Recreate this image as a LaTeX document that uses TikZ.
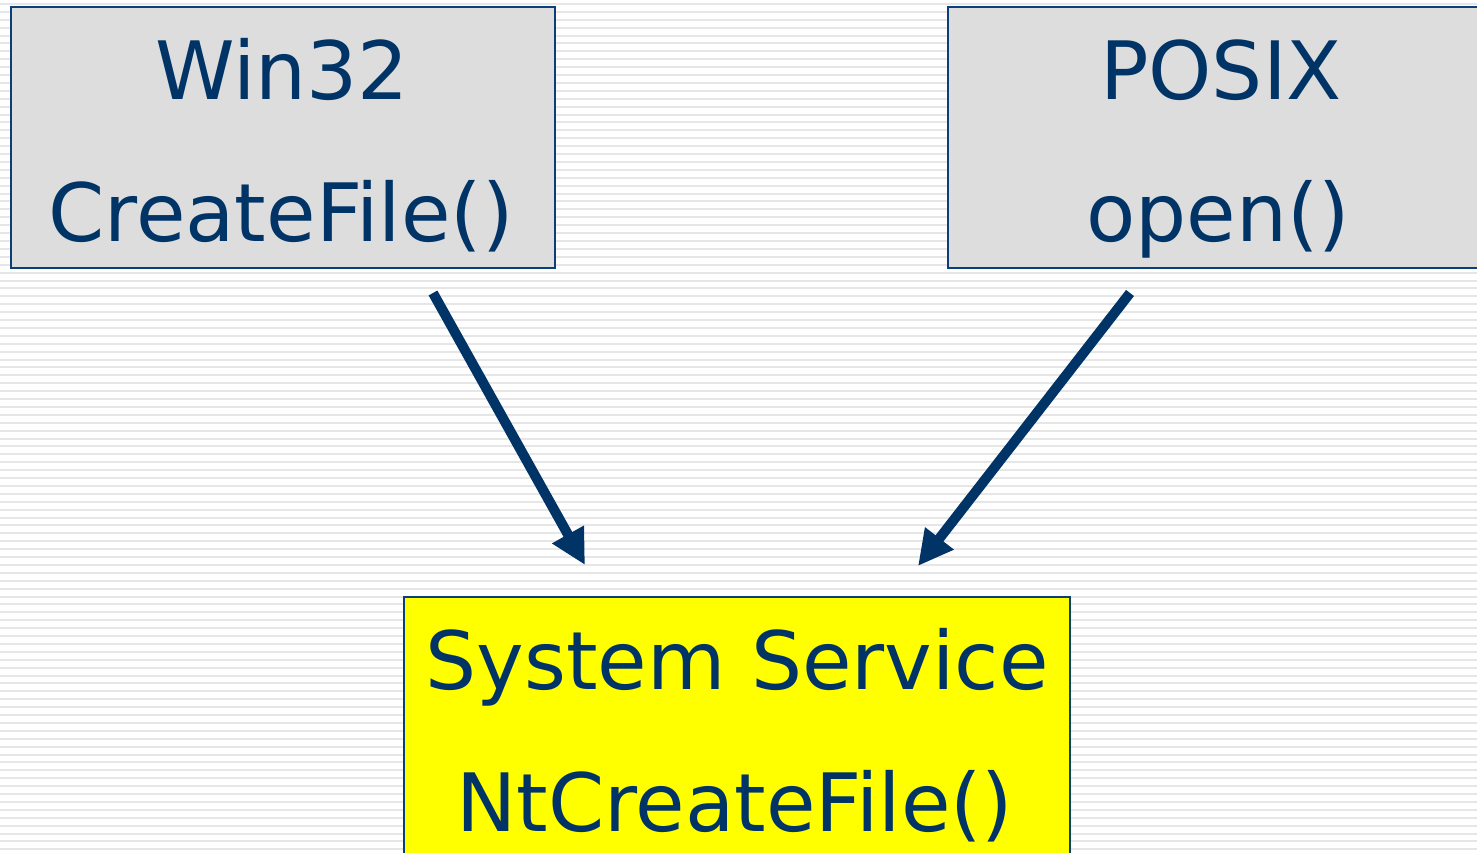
\documentclass[tikz,border=0pt]{standalone}
\usepackage{fontspec}
\setmainfont{DejaVu Sans}
\usetikzlibrary{arrows.meta}
\definecolor{ink}{HTML}{003366}
\definecolor{edge}{HTML}{0A3F7A}
\definecolor{boxgray}{HTML}{DDDDDD}
\definecolor{stripe}{HTML}{E6E6E6}
\definecolor{sysyellow}{HTML}{FFFF00}
\tikzset{
  box/.style={draw=edge, line width=2pt, inner sep=0pt, outer sep=0pt},
  lbl/.style={text=ink, font=\fontsize{80.5}{90}\selectfont, anchor=base, inner sep=0pt},
  flow/.style={draw=ink, line width=10pt, -{Triangle[length=35pt,width=34pt]}}
}
\begin{document}
\begin{tikzpicture}[x=1pt,y=-1pt]
\useasboundingbox (0,0) rectangle (1477,853);
\clip (0,0) rectangle (1477,853);
\fill[white] (0,0) rectangle (1477,853);
\foreach \i in {0,...,108} {
  \fill[stripe] (0,{3+7.9*\i}) rectangle (1477,{5+7.9*\i});
}
\node[box, fill=boxgray, minimum width=544pt, minimum height=261pt, anchor=north west] (win) at (11,7) {};
\node[box, fill=boxgray, minimum width=544pt, minimum height=261pt, anchor=north west] (posix) at (948,7) {};
\node[box, fill=sysyellow, minimum width=666pt, minimum height=300pt, anchor=north west] (sys) at (404,597) {};
\node[lbl] (wint) at (282,100) {Win32};
\node[lbl] (winf) at (281,241) {CreateFile()};
\node[lbl] (posixt) at (1221,100) {POSIX};
\node[lbl] (posixf) at (1218,241) {open()};
\node[lbl] (syst) at (737,689) {System Service};
\node[lbl] (sysf) at (735,831) {NtCreateFile()};
\coordinate (a1s) at (433,293);
\coordinate (a1e) at (585,565);
\coordinate (a2s) at (1130,293);
\coordinate (a2e) at (918,566);
\draw[flow] (a1s) -- (a1e);
\draw[flow] (a2s) -- (a2e);
\end{tikzpicture}
\end{document}
